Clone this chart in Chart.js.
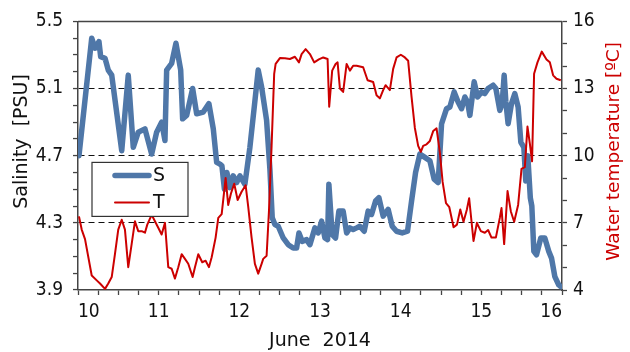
<!DOCTYPE html>
<html>
<head>
<meta charset="utf-8">
<title>Salinity and water temperature, June 2014</title>
<script src="https://cdn.jsdelivr.net/npm/chart.js@4.4.1/dist/chart.umd.min.js"></script>
<style>
  html, body { margin: 0; padding: 0; background: #fff; }
  #wrap { width: 630px; height: 352px; position: relative; }
</style>
</head>
<body>
<div id="wrap"><canvas id="chart"></canvas></div>
<script>
const TICK_FONT = "'DejaVu Sans Condensed', 'DejaVu Sans', sans-serif";
const TITLE_FONT = "'DejaVu Sans', sans-serif";

// Time in decimal days of June 2014
const dayLabels = [10, 11, 12, 13, 14, 15, 16];
const salinityTicks = [3.9, 4.3, 4.7, 5.1, 5.5];
const temperatureTicks = [4, 7, 10, 13, 16];

const salinityTime = [10.012,10.170,10.211,10.260,10.281,10.335,10.375,10.418,10.542,10.623,10.685,10.747,10.830,10.913,10.975,11.037,11.078,11.099,11.161,11.214,11.273,11.297,11.347,11.421,11.471,11.553,11.623,11.677,11.719,11.760,11.784,11.815,11.846,11.884,11.924,11.967,12.007,12.069,12.131,12.185,12.234,12.276,12.338,12.379,12.408,12.441,12.482,12.544,12.606,12.668,12.710,12.739,12.779,12.834,12.875,12.937,12.978,13.020,13.061,13.094,13.110,13.151,13.193,13.234,13.287,13.330,13.371,13.411,13.454,13.494,13.548,13.597,13.639,13.689,13.730,13.783,13.845,13.895,13.949,14.019,14.085,14.135,14.185,14.238,14.300,14.362,14.415,14.465,14.507,14.569,14.610,14.663,14.712,14.755,14.796,14.829,14.858,14.911,14.953,15.003,15.043,15.084,15.146,15.180,15.229,15.258,15.283,15.304,15.332,15.374,15.415,15.456,15.490,15.527,15.551,15.576,15.607,15.626,15.651,15.684,15.737,15.787,15.836,15.870,15.911,15.960,15.985];
const salinity = [4.70,5.40,5.34,5.38,5.29,5.28,5.21,5.18,4.73,5.18,4.75,4.84,4.86,4.71,4.84,4.90,4.79,5.21,5.25,5.37,5.21,4.92,4.94,5.10,4.95,4.96,5.01,4.86,4.66,4.65,4.64,4.50,4.60,4.51,4.58,4.54,4.58,4.53,4.75,4.99,5.21,5.11,4.91,4.62,4.33,4.29,4.28,4.21,4.17,4.15,4.15,4.24,4.19,4.20,4.17,4.27,4.24,4.31,4.21,4.20,4.53,4.23,4.21,4.37,4.37,4.24,4.27,4.26,4.27,4.28,4.25,4.37,4.35,4.43,4.45,4.34,4.38,4.28,4.25,4.24,4.25,4.43,4.60,4.71,4.69,4.67,4.56,4.54,4.89,4.98,4.99,5.08,5.02,4.98,5.05,5.02,4.94,5.14,5.05,5.08,5.07,5.10,5.12,5.10,4.97,5.01,5.18,5.02,4.89,5.01,5.07,4.99,4.78,4.75,4.55,4.70,4.45,4.40,4.13,4.11,4.21,4.21,4.13,4.09,3.98,3.93,3.92];

const temperatureTime = [10.012,10.046,10.087,10.170,10.232,10.273,10.335,10.375,10.418,10.458,10.499,10.542,10.582,10.623,10.665,10.706,10.747,10.789,10.830,10.859,10.913,10.954,10.995,11.037,11.078,11.119,11.161,11.202,11.243,11.285,11.326,11.367,11.421,11.450,11.491,11.540,11.582,11.623,11.657,11.706,11.739,11.781,11.830,11.862,11.896,11.937,11.979,12.028,12.078,12.110,12.152,12.193,12.234,12.276,12.296,12.338,12.367,12.400,12.432,12.450,12.503,12.565,12.627,12.689,12.739,12.772,12.822,12.875,12.928,12.986,13.040,13.094,13.114,13.151,13.193,13.218,13.247,13.287,13.330,13.371,13.411,13.454,13.535,13.590,13.659,13.701,13.742,13.783,13.813,13.866,13.907,13.949,14.002,14.052,14.093,14.135,14.176,14.217,14.250,14.279,14.321,14.362,14.403,14.445,14.486,14.520,14.562,14.603,14.656,14.698,14.739,14.779,14.821,14.849,14.903,14.945,14.994,15.043,15.084,15.126,15.180,15.229,15.250,15.283,15.325,15.366,15.407,15.456,15.498,15.539,15.572,15.601,15.629,15.654,15.696,15.749,15.808,15.849,15.890,15.932,15.985];
const temperature = [7.29,6.70,6.27,4.65,4.43,4.29,4.05,4.29,4.58,5.60,6.70,7.14,6.70,5.02,6.05,7.07,6.63,6.63,6.56,6.92,7.36,7.07,6.78,6.48,7.00,5.02,4.95,4.51,5.02,5.60,5.39,5.17,4.58,5.02,5.60,5.24,5.31,5.02,5.46,6.34,7.22,7.39,9.00,7.80,8.31,8.75,8.02,8.39,8.68,7.73,6.34,5.17,4.73,5.17,5.39,5.53,7.51,10.44,13.66,14.10,14.36,14.35,14.32,14.42,14.17,14.54,14.76,14.54,14.17,14.30,14.39,14.32,12.19,13.80,14.10,14.17,13.00,12.85,14.10,13.80,14.02,14.02,13.95,13.37,13.29,12.70,12.56,12.93,13.15,12.93,13.88,14.39,14.51,14.39,14.24,12.63,11.24,10.44,10.17,10.44,10.51,10.66,11.10,11.22,10.14,8.83,7.88,7.70,6.80,6.92,7.60,7.05,7.60,8.10,6.19,7.00,6.63,6.56,6.68,6.34,6.34,7.22,7.66,6.05,8.42,7.51,7.05,7.80,9.41,9.49,11.30,10.55,9.75,13.66,14.17,14.65,14.30,14.17,13.59,13.44,13.37];

const BLUE = '#4f77a8';
const RED = '#cc0000';
const AXIS = '#444444';

const near = (list, v, eps) => list.some(t => Math.abs(t - v) < eps);

// Axis titles drawn rotated so both read bottom-to-top
const sideTitles = {
  id: 'sideTitles',
  afterDraw(chart) {
    const { ctx, chartArea } = chart;
    ctx.save();
    ctx.textAlign = 'center';
    ctx.textBaseline = 'middle';
    const draw = (text, x, y, size, color) => {
      ctx.save();
      ctx.font = size + 'px ' + TITLE_FONT;
      ctx.translate(x, y);
      ctx.rotate(-Math.PI / 2);
      ctx.fillStyle = color;
      ctx.fillText(text, 0, 0);
      ctx.restore();
    };
    draw('Salinity  [PSU]', 22, chartArea.top + 120, 19, '#111');
    draw('Water temperature [\u00BAC]', chart.width - 16, chartArea.top + 130, 18.5, RED);
    ctx.restore();
  }
};

// Top edge of the plot frame
const frameTop = {
  id: 'frameTop',
  afterDraw(chart) {
    const { ctx, chartArea } = chart;
    ctx.save();
    ctx.strokeStyle = AXIS;
    ctx.lineWidth = 1.5;
    ctx.beginPath();
    ctx.moveTo(chartArea.left, chartArea.top);
    ctx.lineTo(chartArea.right, chartArea.top);
    ctx.stroke();
    ctx.restore();
  }
};

// Boxed legend inside the plot area
const boxLegend = {
  id: 'boxLegend',
  afterDatasetsDraw(chart) {
    const { ctx, chartArea } = chart;
    const x = chartArea.left + 14, y = chartArea.top + 141, w = 96, h = 54;
    ctx.save();
    ctx.fillStyle = '#fff';
    ctx.fillRect(x, y, w, h);
    ctx.strokeStyle = '#333';
    ctx.lineWidth = 1.2;
    ctx.strokeRect(x, y, w, h);
    ctx.font = '19px ' + TITLE_FONT;
    ctx.textBaseline = 'middle';
    chart.data.datasets.forEach((ds, i) => {
      const ly = y + 13 + i * 27;
      ctx.strokeStyle = ds.borderColor;
      ctx.lineWidth = ds.borderWidth;
      ctx.lineCap = 'round';
      ctx.beginPath();
      ctx.moveTo(x + 23, ly);
      ctx.lineTo(x + 57, ly);
      ctx.stroke();
      ctx.fillStyle = '#111';
      ctx.fillText(ds.label, x + 61, ly + 1);
    });
    ctx.restore();
  }
};

new Chart(document.getElementById('chart'), {
  type: 'line',
  data: {
    datasets: [
      {
        label: 'S',
        data: salinityTime.map((t, i) => ({ x: t, y: salinity[i] })),
        yAxisID: 'y',
        borderColor: BLUE,
        borderWidth: 5.5,
        borderJoinStyle: 'round',
        borderCapStyle: 'round',
        pointRadius: 0,
        tension: 0,
        order: 1
      },
      {
        label: 'T',
        data: temperatureTime.map((t, i) => ({ x: t, y: temperature[i] })),
        yAxisID: 'y2',
        borderColor: RED,
        borderWidth: 2,
        borderJoinStyle: 'round',
        pointRadius: 0,
        tension: 0,
        order: 0
      }
    ]
  },
  options: {
    responsive: true,
    maintainAspectRatio: false,
    animation: false,
    layout: { padding: { top: 17, left: 0, right: 0, bottom: 0 } },
    plugins: { legend: { display: false }, tooltip: { enabled: false } },
    scales: {
      x: {
        type: 'linear',
        position: 'bottom',
        min: 10,
        max: 16,
        afterFit: s => { s.height = 62; },
        ticks: {
          stepSize: 0.25,
          autoSkip: false,
          maxRotation: 0,
          align: 'inner',
          padding: 6,
          color: '#111',
          font: { family: TICK_FONT, size: 19 },
          callback: v => near(dayLabels, v, 1e-6) ? String(Math.round(v)) : ''
        },
        grid: { drawOnChartArea: false, tickLength: 5, tickColor: AXIS, tickWidth: 1.3 },
        border: { color: AXIS, width: 1.5 },
        title: {
          display: true,
          text: 'June  2014',
          color: '#111',
          font: { family: TITLE_FONT, size: 19 },
          padding: { top: 2, bottom: 0 }
        }
      },
      y: {
        position: 'left',
        min: 3.9,
        max: 5.5,
        afterFit: s => { s.width = 78; },
        ticks: {
          stepSize: 0.1,
          autoSkip: false,
          padding: 10,
          color: '#111',
          font: { family: TICK_FONT, size: 19 },
          callback: v => near(salinityTicks, v, 1e-6) ? v.toFixed(1) : ''
        },
        grid: {
          tickLength: 5,
          tickColor: AXIS,
          tickWidth: 1.3,
          lineWidth: 1.1,
          color: c => (c.tick && near([4.3, 4.7, 5.1], c.tick.value, 1e-6)) ? '#111' : 'rgba(0,0,0,0)'
        },
        border: { color: AXIS, width: 1.5, dash: [6, 4] }
      },
      y2: {
        position: 'right',
        min: 4,
        max: 16,
        afterFit: s => { s.width = 68; },
        ticks: {
          stepSize: 1,
          autoSkip: false,
          padding: 6,
          color: '#111',
          font: { family: TICK_FONT, size: 19 },
          callback: v => near(temperatureTicks, v, 1e-6) ? String(v) : ''
        },
        grid: { drawOnChartArea: false, tickLength: 5, tickColor: AXIS, tickWidth: 1.3 },
        border: { color: AXIS, width: 1.5 }
      }
    }
  },
  plugins: [boxLegend, frameTop, sideTitles]
});
</script>
</body>
</html>
